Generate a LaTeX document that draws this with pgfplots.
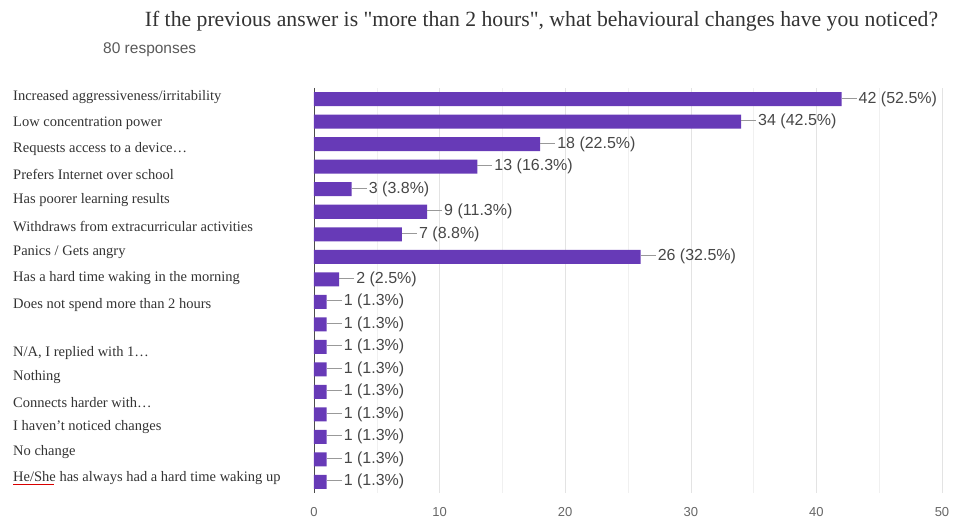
\documentclass[border=0pt]{standalone}
\usepackage{pgfplots}
\pgfplotsset{compat=1.18}
\usepackage{pgfplotstable}
\usepackage{fontspec}
\setmainfont{Liberation Serif}[Ligatures=TeXOff]
\newfontfamily\sans{Liberation Sans}
\definecolor{barpurple}{HTML}{673AB7}
\definecolor{txt}{HTML}{333333}
\pgfplotstableread{
idx count pct
0 42 52.5
1 34 42.5
2 18 22.5
3 13 16.3
4 3 3.8
5 9 11.3
6 7 8.8
7 26 32.5
8 2 2.5
9 1 1.3
10 1 1.3
11 1 1.3
12 1 1.3
13 1 1.3
14 1 1.3
15 1 1.3
16 1 1.3
17 1 1.3
}\data
\begin{document}
\begin{tikzpicture}
\path[use as bounding box] (-314pt,-34pt) rectangle (642pt,493pt);
\begin{axis}[
  at={(0,0)}, anchor=south west,
  scale only axis, width=628pt, height=405pt,
  xbar, bar width=14pt,
  xmin=0, xmax=50, ymin=-0.5, ymax=17.5, y dir=reverse,
  xtick={0,10,...,50}, minor xtick={5,15,...,45},
  xmajorgrids, xminorgrids,
  major grid style={draw=gray!22},
  minor grid style={draw=gray!12},
  axis x line*=bottom, axis y line*=left,
  x axis line style={draw=none},
  y axis line style={-, draw=black!70, line width=0.8pt},
  major tick length=0pt, minor tick length=0pt,
  /pgf/number format/assume math mode=true,
  xticklabel style={font=\sans\fontsize{13}{15}\selectfont, text=black!60, yshift=-11pt},
  ytick={-0.078,1.076,2.230,3.340,4.494,5.648,6.802,7.956,9.154,11.285,12.350,13.460,14.569,15.679,16.833},
  yticklabels={Increased aggressiveness/irritability, Low concentration power, Requests access to a device…, Prefers Internet over school, Has poorer learning results, Withdraws from extracurricular activities, Panics / Gets angry, Has a hard time waking in the morning, Does not spend more than 2 hours, {N/A, I replied with 1…}, Nothing, Connects harder with…, I haven’t noticed changes, No change, {\makebox[0pt][l]{\color{red!85!black}\rule[-3pt]{41pt}{0.9pt}}He/She has always had a hard time waking up}},
  yticklabel style={anchor=west, inner sep=0pt, xshift=-301pt, font=\fontsize{14.5}{16}\selectfont, text=txt},
  clip=false,
]
\addplot[fill=barpurple, draw=none,
  visualization depends on={\thisrow{pct}\as\pct},
  point meta=x,
  nodes near coords={{\color{black!40}\rule[0.33em]{15pt}{0.6pt}}\hspace{2pt}\pgfmathprintnumber[fixed,precision=0]{\pgfplotspointmeta}\ (\pgfmathprintnumber[fixed,fixed zerofill,precision=1]{\pct}\%)},
  nodes near coords style={anchor=west, inner xsep=0pt, font=\sans\fontsize{16}{18}\selectfont, text=black!72},
] table[x=count, y=idx]{\data};
\end{axis}
\node[anchor=base, inner sep=0pt, font=\fontsize{21.7}{24}\selectfont, text=txt] at (227.5pt,466pt) {If the previous answer is "more than 2 hours", what behavioural changes have you noticed?};
\node[anchor=west, inner sep=0pt, font=\sans\fontsize{15.5}{17}\selectfont, text=black!65] at (-211pt,443pt) {80 responses};
\end{tikzpicture}
\end{document}
